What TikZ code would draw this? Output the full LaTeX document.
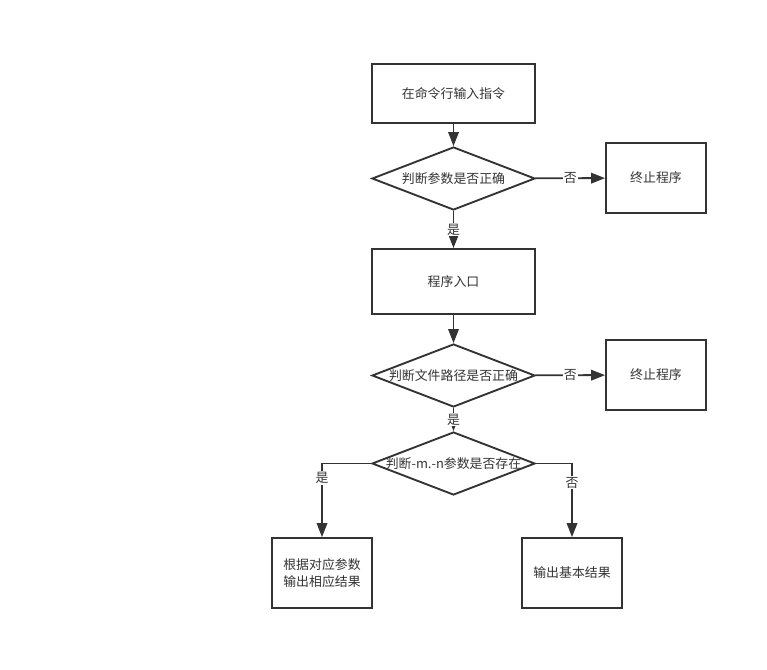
\documentclass[tikz,border=0pt]{standalone}
\usepackage{fontspec}
\setmainfont{Noto Sans CJK SC}
\usetikzlibrary{shapes.geometric,arrows.meta}
\definecolor{ink}{HTML}{333333}
\begin{document}
\begin{tikzpicture}[x=0.03cm,y=-0.03cm,
        every node/.style={font=\fontsize{11}{14}\selectfont,text=ink},
        box/.style={draw=ink,line width=1.6pt,minimum width=4.89cm,minimum height=1.77cm,align=center},
        smallbox/.style={draw=ink,line width=1.6pt,minimum width=3cm,minimum height=2.1cm,align=center},
        decision/.style={draw=ink,line width=1.6pt,diamond,inner sep=0pt,minimum width=4.89cm,minimum height=1.89cm},
        flow/.style={draw=ink,line width=1.6pt,-{Triangle[length=12pt,width=9pt]}},
        answer/.style={fill=white,inner sep=1pt}]
    \useasboundingbox (0,0) rectangle (767,669);
    % main column
    \node[box] (input) at (453.5,93.5) {在命令行输入指令};
    \node[decision,label=center:判断参数是否正确] (chkarg) at (453.5,178.5) {};
    \node[box,minimum height=1.95cm] (entry) at (453.5,281.5) {程序入口};
    \node[decision,label=center:判断文件路径是否正确] (chkpath) at (453.5,375.5) {};
    \node[decision,label=center:判断-m.-n参数是否存在] (chkmn) at (453.5,463.5) {};
    % side boxes
    \node[smallbox] (stopa) at (656,178) {终止程序};
    \node[smallbox] (stopb) at (656,375) {终止程序};
    \node[smallbox] (resmn) at (322,573) {根据对应参数\\输出相应结果};
    \node[smallbox] (resbase) at (572,573) {输出基本结果};
    % connectors
    \draw[flow] (input) -- (chkarg);
    \draw[flow] (chkarg) -- node[answer] {是} (entry);
    \draw[flow] (chkarg) -- node[answer] {否} (stopa);
    \draw[flow] (entry) -- (chkpath);
    \draw[flow] (chkpath) -- node[answer] {否} (stopb);
    \draw[flow] (chkpath) -- node[answer] {是} (chkmn);
    \draw[flow] (chkmn.west) -| node[answer,pos=0.6] {是} (resmn.north);
    \draw[flow] (chkmn.east) -| node[answer,pos=0.63] {否} (resbase.north);
\end{tikzpicture}
\end{document}
